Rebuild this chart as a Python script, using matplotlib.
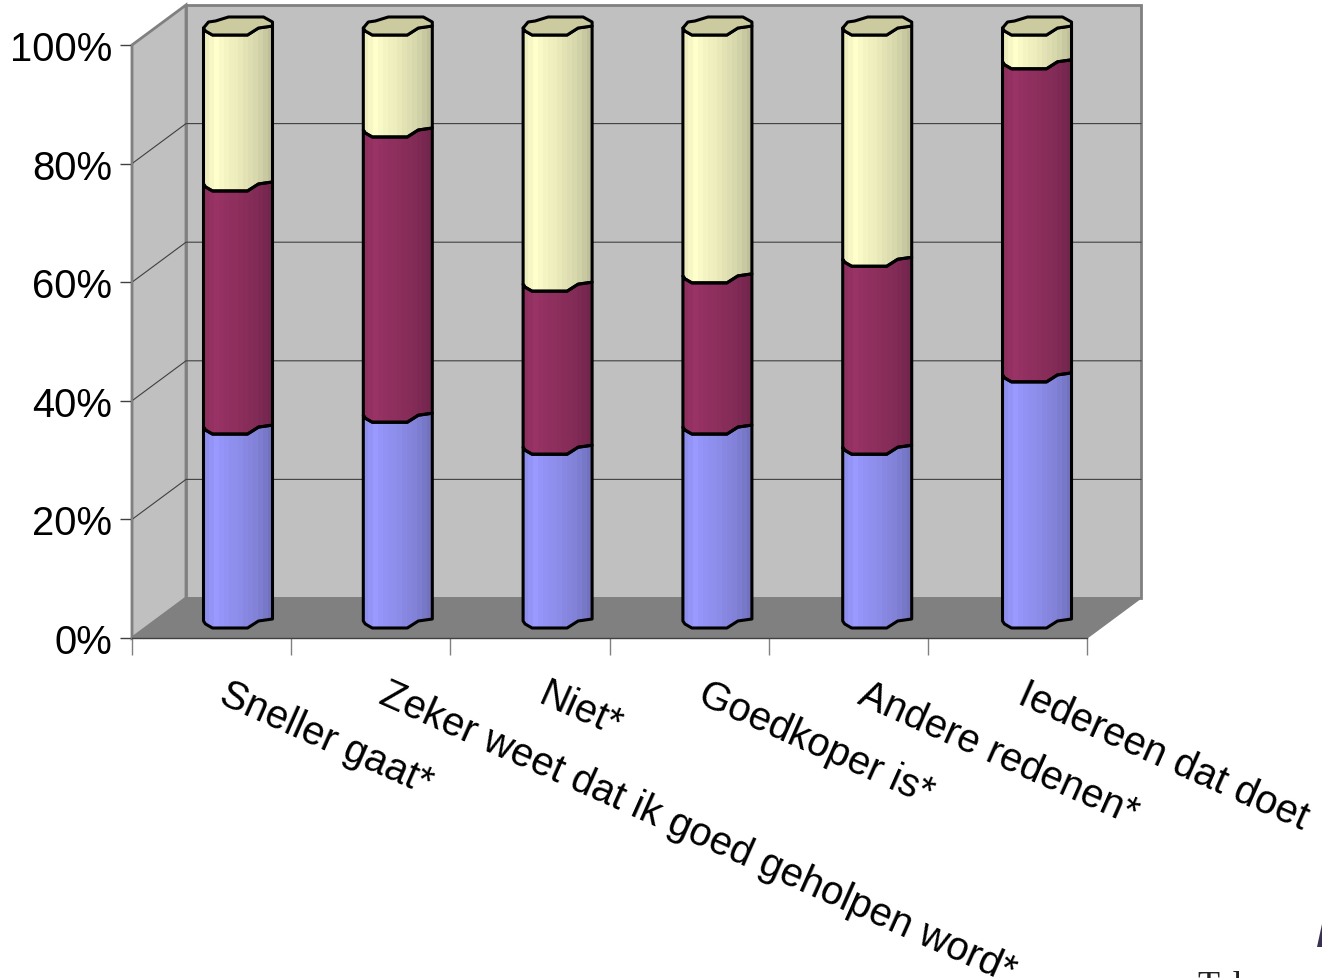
import numpy as np
import matplotlib
matplotlib.use('Agg')
import matplotlib.pyplot as plt
from matplotlib.patches import Polygon, Rectangle

plt.rcParams['font.family'] = ['Liberation Sans', 'DejaVu Sans']

categories = ['Sneller gaat*', 'Zeker weet dat ik goed geholpen word*', 'Niet*',
              'Goedkoper is*', 'Andere redenen*', 'Iedereen dat doet']
blue_vals = [32.7, 34.7, 29.3, 32.7, 29.3, 41.5]
maroon_vals = [41.0, 48.1, 27.5, 25.5, 31.7, 52.8]
yellow_vals = [26.3, 17.2, 43.2, 41.8, 39.0, 5.7]
pct_ticks = [0, 20, 40, 60, 80, 100]

W, H = 1322, 979
X0, X1, Y_TOP, Y_BOT = 132, 1087, 46, 639
PX_X = 6.0 / (X1 - X0)
PX_Y = 100.0 / (Y_BOT - Y_TOP)
DEPTH_X = 54 * PX_X
DEPTH_Y = 40 * PX_Y

fig = plt.figure(figsize=(W / 100, H / 100), dpi=100)
ax = fig.add_axes([X0 / W, 1 - Y_BOT / H, (X1 - X0) / W, (Y_BOT - Y_TOP) / H])
ax.set_xlim(0, 6)
ax.set_ylim(0, 100)

# walls and floor
wall = '#c0c0c0'
edge = '#808080'
ax.add_patch(Polygon([(0, 0), (DEPTH_X, DEPTH_Y), (DEPTH_X, 100 + DEPTH_Y), (0, 100)],
                     fc=wall, ec=edge, lw=2, clip_on=False, zorder=1))
ax.add_patch(Rectangle((DEPTH_X, DEPTH_Y), 6, 100, fc=wall, ec=edge, lw=2, clip_on=False, zorder=1))
ax.add_patch(Polygon([(0, 0), (6, 0), (6 + DEPTH_X, DEPTH_Y), (DEPTH_X, DEPTH_Y)],
                     fc=edge, ec=edge, lw=1, clip_on=False, zorder=1.5))
for p in pct_ticks[1:-1]:
    ax.plot([0, DEPTH_X, 6 + DEPTH_X], [p, p + DEPTH_Y, p + DEPTH_Y], color='#404040', lw=0.8,
            clip_on=False, zorder=1.2)

# cylinder outline, pixels relative to the lowest front point
front_x = np.array([0, 2, 9, 44, 55, 69])
front_y = np.array([-7, -4, 0, 0, -7, -9])
back_x = np.array([69, 60, 25, 12, 5, 0])
back_y = np.array([-13, -18, -18, -14, -13, -7])
BAR_PX = 69
BAR_SHIFT = 71.5  # left of the bar from the front left of its category
BAR_STEP = 1.004  # bars run a little wider than the tick spacing
BASE = 10 * PX_Y

shade = np.array([0.93, 0.97, 1.0, 0.98, 0.96, 0.94, 0.93, 0.91, 0.89, 0.87, 0.85, 0.82, 0.79, 0.75])
colors = ['#9999ff', '#993366', '#ffffcc']
cap_color = '#cbcb9f'


def rgb(c):
    return np.array(matplotlib.colors.to_rgb(c))


def outline(i, v):
    left = i * BAR_STEP + BAR_SHIFT * PX_X
    return left + front_x * PX_X, v + BASE - front_y * PX_Y


for i in range(len(categories)):
    left = i * BAR_STEP + BAR_SHIFT * PX_X
    right = left + BAR_PX * PX_X
    bottom = 0.0
    for vals, col in zip([blue_vals, maroon_vals, yellow_vals], colors):
        top = bottom + vals[i]
        xb, yb = outline(i, bottom)
        xt, yt = outline(i, top)
        pts = np.column_stack([np.r_[xb, xt[::-1]], np.r_[yb, yt[::-1]]])
        poly = Polygon(pts, fc='none', ec='black', lw=2.2, joinstyle='round', clip_on=False, zorder=3.1)
        ax.add_patch(poly)
        strip = (shade[:, None] * rgb(col))[None, :, :]
        im = ax.imshow(strip, extent=(left, right, -5, 110), aspect='auto', zorder=3,
                       interpolation='nearest', origin='lower')
        im.set_clip_box(fig.bbox)
        im.set_clip_path(Polygon(pts, transform=ax.transData))
        bottom = top
    xt, yt = outline(i, bottom)
    xc = np.r_[xt, left + back_x * PX_X]
    yc = np.r_[yt, bottom + BASE - back_y * PX_Y]
    ax.add_patch(Polygon(np.column_stack([xc, yc]), fc=cap_color, ec='black', lw=2.2,
                         joinstyle='round', clip_on=False, zorder=3.2))

ax.set_xlim(0, 6)
ax.set_ylim(0, 100)

# axes
for s in ['top', 'right']:
    ax.spines[s].set_visible(False)
ax.spines['left'].set_color(edge)
ax.spines['left'].set_linewidth(1.5)
ax.spines['left'].set_zorder(2)
ax.spines['bottom'].set_color('#404040')
ax.spines['bottom'].set_linewidth(1)
ax.spines['bottom'].set_zorder(2)
ax.set_yticks(pct_ticks)
ax.set_yticklabels(['%d%%' % p for p in pct_ticks], fontsize=28.8)
ax.set_xticks(range(7))
ax.set_xticklabels([])
ax.tick_params(axis='y', length=8.6, width=1, color='#404040', pad=5.5)
ax.tick_params(axis='x', length=12, width=1, color=edge)

for i, name in enumerate(categories):
    ax.annotate(name, (i * BAR_STEP + 0.5, 0), xytext=(10, -54), textcoords='offset pixels', rotation=-24,
                rotation_mode='anchor', ha='left', va='center', fontsize=28.7, annotation_clip=False)

# cropped logo in the corner
fig.text(1197 / W, 1 - 996 / H, 'Tel', family='Liberation Serif', fontsize=26, color='#222222')
fig.add_artist(Polygon([(1317 / W, 1 - 948 / H), (1322 / W, 1 - 925 / H), (1322 / W, 1 - 948 / H)],
                       transform=fig.transFigure, fc='#3a3050', ec='none'))

plt.savefig('out.png', dpi=100)
